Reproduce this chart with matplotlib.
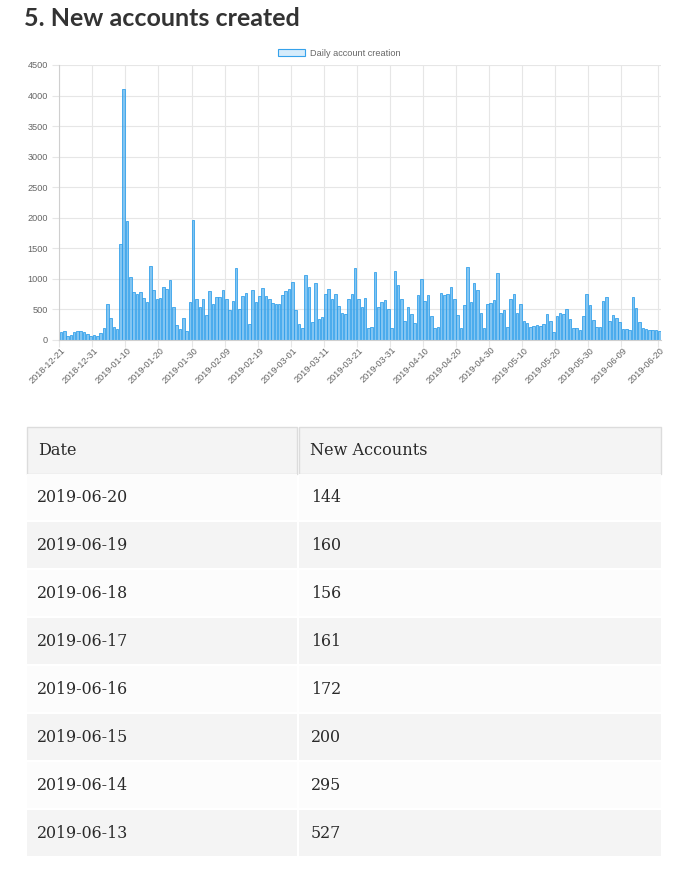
"""Daily new accounts bar chart with a table of the latest days."""

import matplotlib

matplotlib.use("Agg")
import matplotlib.pyplot as plt
import numpy as np
import pandas as pd
from matplotlib.patches import Patch, Rectangle


# daily counts, 2018-12-21 .. 2019-06-20
dec = [135, 150, 70, 80, 130, 150, 145, 135, 100, 60, 75]
jan = [60, 110, 201, 589, 354, 218, 180, 1570, 4100, 1950, 1036, 780, 747, 780, 682, 616,
       1210, 818, 666, 682, 860, 829, 982, 540, 245, 175, 354, 147, 616, 1958, 670]
feb = [545, 676, 409, 802, 589, 703, 703, 818, 666, 491, 633, 1173, 502, 725, 774, 257,
       818, 627, 720, 845, 720, 676, 600, 589, 584, 736, 807, 834]
mar = [944, 491, 262, 191, 1063, 867, 300, 938, 344, 376, 747, 829, 670, 758, 562, 447,
       425, 676, 747, 1183, 670, 540, 687, 201, 207, 1107, 540, 616, 660, 502, 191]
apr = [1129, 894, 676, 305, 545, 420, 278, 736, 993, 643, 736, 398, 191, 218, 763, 742,
       747, 872, 670, 404, 201, 567, 1200, 622, 927, 818, 442, 201, 584, 605]
may = [654, 1091, 442, 486, 218, 666, 747, 447, 594, 316, 273, 218, 229, 240, 229, 262,
       420, 316, 136, 387, 436, 425, 507, 338, 201, 196, 158, 387, 747, 573, 322]
jun = [207, 207, 638, 698, 316, 404, 365, 294, 185, 185, 158, 709, 527, 295, 200, 172,
       161, 156, 160, 144]

counts = dec + jan + feb + mar + apr + may + jun
dates = pd.date_range("2018-12-21", "2019-06-20", freq="D").strftime("%Y-%m-%d").tolist()

y_ticks = list(range(0, 4501, 500))
table_header = ["Date", "New Accounts"]
table_dates = ["2019-06-20", "2019-06-19", "2019-06-18", "2019-06-17",
               "2019-06-16", "2019-06-15", "2019-06-14", "2019-06-13"]
table_counts = [144, 160, 156, 161, 172, 200, 295, 527]

W, H = 687, 869
GRID = "#e6e6e6"
TXT = "#666666"
BLUE = "#36a2eb"
SERIF = "DejaVu Serif"

fig = plt.figure(figsize=(W / 100, H / 100), dpi=100)

# page overlay in pixel coordinates: title and table
page = fig.add_axes([0, 0, 1, 1])
page.set_xlim(0, W)
page.set_ylim(H, 0)
page.axis("off")
page.text(24, 19, "5. New accounts created", fontsize=18, fontweight="bold",
          family="Lato", color="#333333", va="center", ha="left")

col_x = [27, 299, 663]
row_h = 48
top = 427
for c in range(2):
    page.add_patch(Rectangle((col_x[c], top), col_x[c + 1] - col_x[c] - 2, 47,
                             facecolor="#f4f4f4", edgecolor="#dcdcdc", lw=1))
    page.text(col_x[c] + 11, top + 23.5, table_header[c], family=SERIF,
              fontsize=11.6, color="#2a2a2a", va="center")
for r, (d, n) in enumerate(zip(table_dates, table_counts)):
    y0 = top + 47 + r * row_h
    bg = "#fcfcfc" if r % 2 == 0 else "#f4f4f4"
    for c in range(2):
        page.add_patch(Rectangle((col_x[c], y0), col_x[c + 1] - col_x[c] - 2, row_h - 2,
                                 facecolor=bg, edgecolor="none"))
    page.text(col_x[0] + 10, y0 + 24, d, family=SERIF, fontsize=11.4,
              color="#2a2a2a", va="center")
    page.text(col_x[1] + 12, y0 + 24, str(n), family=SERIF, fontsize=11.4,
              color="#2a2a2a", va="center")

# bar chart
left, right, ytop, ybot = 59.3, 661, 65, 340
ax = fig.add_axes([left / W, 1 - ybot / H, (right - left) / W, (ybot - ytop) / H])
x = np.arange(len(counts))
ax.bar(x, counts, width=0.78, color=(54 / 255, 162 / 255, 235 / 255, 0.62),
       edgecolor=BLUE, linewidth=0.6, zorder=2)
ax.set_xlim(-0.5, len(counts) - 0.5)
ax.set_ylim(0, 4500)

label_idx = list(range(0, len(counts) - 2, 10)) + [len(counts) - 1]
ax.set_xticks(label_idx)
ax.set_xticklabels([dates[i] for i in label_idx], rotation=45, ha="right",
                   rotation_mode="anchor", fontsize=6.6, family="Liberation Sans", color=TXT)
ax.set_xticks([i - 0.5 for i in label_idx], minor=True)
ax.tick_params(axis="x", which="major", length=0, pad=4)
ax.tick_params(axis="x", which="minor", length=5, color=GRID, width=0.8)

ax.set_yticks(y_ticks)
ax.set_yticklabels([str(v) for v in y_ticks], fontsize=6.6, family="Liberation Sans", color=TXT)
ax.tick_params(axis="y", length=5, color=GRID, width=0.8, pad=3)

ax.grid(axis="x", which="minor", color=GRID, lw=0.8, zorder=0)
ax.grid(axis="x", which="major", visible=False)
ax.grid(axis="y", which="major", color=GRID, lw=0.8, zorder=0)
ax.set_axisbelow(True)

for s in ["top", "right"]:
    ax.spines[s].set_visible(False)
for s in ["left", "bottom"]:
    ax.spines[s].set_color("#cfcfcf")
    ax.spines[s].set_linewidth(0.8)

leg = ax.legend(handles=[Patch(facecolor=(54 / 255, 162 / 255, 235 / 255, 0.2),
                               edgecolor=BLUE, lw=0.8, label="Daily account creation")],
                loc="lower center", bbox_to_anchor=(0.465, 1.0), frameon=False,
                handlelength=3.0, handleheight=0.9, handletextpad=0.5,
                prop={"family": "Liberation Sans", "size": 6.6}, borderaxespad=0.4)
for t in leg.get_texts():
    t.set_color(TXT)

fig.savefig("out.png", dpi=100)
